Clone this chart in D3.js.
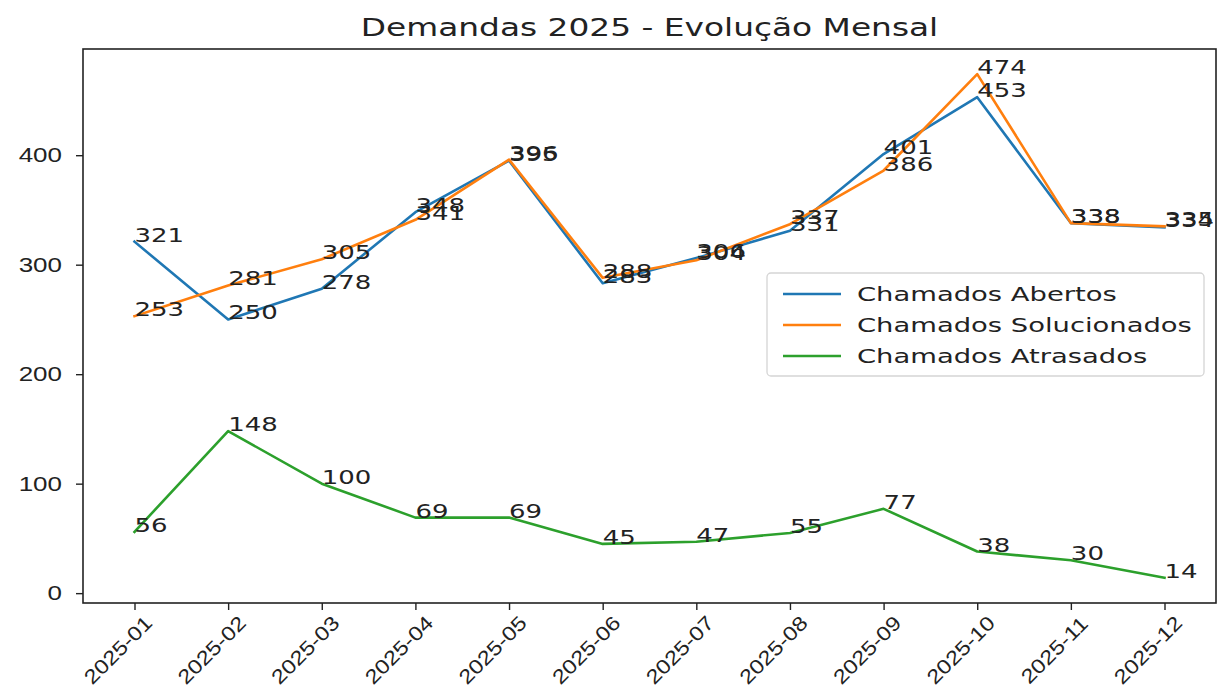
<!DOCTYPE html>
<html>
<head>
<meta charset="utf-8">
<script src="https://cdn.jsdelivr.net/npm/d3@7"></script>
<style>
  html, body { margin: 0; padding: 0; background: #fff; }
  svg { display: block; font-family: "DejaVu Sans", sans-serif; }
</style>
</head>
<body>
<svg id="chart" width="1217" height="691"></svg>
<script>
// Monthly ticket counts for 2025
const months = ["2025-01","2025-02","2025-03","2025-04","2025-05","2025-06",
                "2025-07","2025-08","2025-09","2025-10","2025-11","2025-12"];
const abertos      = [321, 250, 278, 348, 395, 283, 306, 331, 401, 453, 338, 334];
const solucionados = [253, 281, 305, 341, 396, 288, 304, 337, 386, 474, 338, 335];
const atrasados    = [56, 148, 100, 69, 69, 45, 47, 55, 77, 38, 30, 14];
const yTicks = [0, 100, 200, 300, 400];

const seriesNames  = ["Chamados Abertos", "Chamados Solucionados", "Chamados Atrasados"];
const seriesValues = [abertos, solucionados, atrasados];
const colors = ["#1f77b4", "#ff7f0e", "#2ca02c"];

const svg = d3.select("#chart");
const plotLeft = 83, plotRight = 1216, plotTop = 49, plotBottom = 603;
const ink = "#222";
const fs = 20;      // base text size
const sx = 1.3;     // horizontal text widening

// Index-based x scale with 5% padding on each side
const n = months.length;
const pad = (n - 1) * 0.05;
const x = d3.scaleLinear().domain([-pad, n - 1 + pad]).range([plotLeft, plotRight]);

const all = seriesValues.flat();
const yMin = d3.min(all), yMax = d3.max(all);
const yPad = (yMax - yMin) * 0.05;
const y = d3.scaleLinear().domain([yMin - yPad, yMax + yPad]).range([plotBottom, plotTop]);

// Title
svg.append("text")
  .attr("transform", `translate(${(plotLeft + plotRight) / 2},36) scale(1.34,1)`)
  .attr("text-anchor", "middle")
  .attr("font-size", 24.5).attr("fill", ink)
  .text("Demandas 2025 - Evolução Mensal");

// Lines
const line = d3.line().x((d, i) => x(i)).y(d => y(d));
seriesValues.forEach((vals, k) => {
  svg.append("path")
    .datum(vals)
    .attr("d", line)
    .attr("fill", "none")
    .attr("stroke", colors[k])
    .attr("stroke-width", 2.6)
    .attr("stroke-linejoin", "round")
    .attr("stroke-linecap", "square");
});

// Value labels at each point
seriesValues.forEach(vals => {
  svg.append("g").selectAll("text")
    .data(vals).join("text")
    .attr("transform", (d, i) => `translate(${x(i)},${y(d)}) scale(${sx},1)`)
    .attr("font-size", fs).attr("fill", ink)
    .text(d => d);
});

// X axis: ticks from the scale, labels rotated 45 degrees below each tick
const xAxis = d3.axisBottom(x)
  .tickValues(d3.range(n))
  .tickFormat(i => months[i])
  .tickSize(7);
const gx = svg.append("g").attr("transform", `translate(0,${plotBottom})`).call(xAxis);
gx.select(".domain").remove();
gx.selectAll("line").attr("stroke", ink).attr("stroke-width", 1.4);
gx.selectAll("text")
  .attr("font-size", fs).attr("fill", ink)
  .attr("text-anchor", "middle")
  .attr("dy", "0.35em").attr("y", null)
  .attr("transform", "translate(-17,47) rotate(-45) scale(1.18,1)");

// Y axis
const yAxis = d3.axisLeft(y).tickValues(yTicks).tickSize(7).tickPadding(0);
const gy = svg.append("g").attr("transform", `translate(${plotLeft},0)`).call(yAxis);
gy.select(".domain").remove();
gy.selectAll("line").attr("stroke", ink).attr("stroke-width", 1.4);
gy.selectAll("text")
  .attr("font-size", fs).attr("fill", ink)
  .attr("x", null)
  .attr("transform", `translate(-21,0) scale(${sx},1)`);

// Frame
svg.append("rect")
  .attr("x", plotLeft).attr("y", plotTop)
  .attr("width", plotRight - plotLeft).attr("height", plotBottom - plotTop)
  .attr("fill", "none").attr("stroke", ink).attr("stroke-width", 1.6);

// Legend
const lg = svg.append("g").attr("transform", "translate(767,273)");
lg.append("rect")
  .attr("width", 437).attr("height", 103).attr("rx", 4)
  .attr("fill", "#fff").attr("fill-opacity", 0.8)
  .attr("stroke", "#d5d5d5").attr("stroke-width", 1.3);
seriesNames.forEach((name, k) => {
  const cy = 21 + k * 31;
  lg.append("line")
    .attr("x1", 16).attr("x2", 74).attr("y1", cy).attr("y2", cy)
    .attr("stroke", colors[k]).attr("stroke-width", 2.6);
  lg.append("text")
    .attr("transform", `translate(90,${cy + 7}) scale(1.37,1)`)
    .attr("font-size", fs).attr("fill", ink)
    .text(name);
});
</script>
</body>
</html>
